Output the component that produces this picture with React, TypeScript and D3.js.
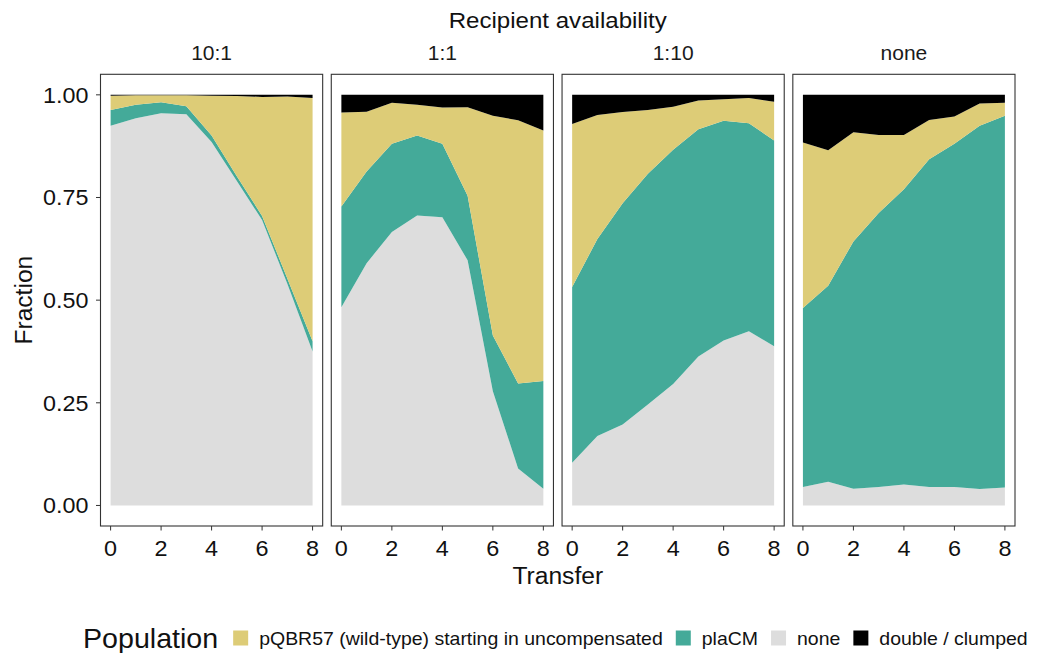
import React, { useEffect, useRef } from "react";
import * as d3 from "d3";

// Transfers sampled in every facet
const transfers = [0, 1, 2, 3, 4, 5, 6, 7, 8];

// Facet strips (recipient availability)
const facetLabels = ["10:1", "1:1", "1:10", "none"];

// Legend order and colours
const populations = [
  "pQBR57 (wild-type) starting in uncompensated",
  "plaCM",
  "none",
  "double / clumped",
];
const populationColors = ["#DDCC77", "#44AA99", "#DDDDDD", "#000000"];

// Stacking order, bottom to top
const stackOrder = [
  "none",
  "plaCM",
  "pQBR57 (wild-type) starting in uncompensated",
  "double / clumped",
];

// Fraction of each population per transfer; one row per facet (10:1, 1:1, 1:10, none)
const noneShare = [
  [0.925, 0.943, 0.955, 0.953, 0.885, 0.79, 0.695, 0.54, 0.375],
  [0.483, 0.59, 0.666, 0.706, 0.702, 0.597, 0.278, 0.09, 0.041],
  [0.104, 0.169, 0.197, 0.246, 0.296, 0.363, 0.402, 0.424, 0.388],
  [0.045, 0.058, 0.041, 0.045, 0.051, 0.045, 0.045, 0.04, 0.044],
];
const plaCMShare = [
  [0.038, 0.033, 0.027, 0.019, 0.016, 0.012, 0.01, 0.013, 0.025],
  [0.245, 0.223, 0.215, 0.195, 0.179, 0.157, 0.136, 0.207, 0.262],
  [0.428, 0.48, 0.539, 0.562, 0.57, 0.553, 0.535, 0.507, 0.501],
  [0.436, 0.477, 0.602, 0.667, 0.719, 0.798, 0.836, 0.885, 0.905],
];
const pQBR57Share = [
  [0.035, 0.023, 0.017, 0.027, 0.097, 0.195, 0.29, 0.443, 0.592],
  [0.229, 0.146, 0.1, 0.075, 0.088, 0.216, 0.535, 0.641, 0.61],
  [0.397, 0.302, 0.222, 0.155, 0.105, 0.07, 0.052, 0.061, 0.094],
  [0.403, 0.33, 0.266, 0.19, 0.132, 0.096, 0.066, 0.054, 0.032],
];
const doubleShare = [
  [0.002, 0.001, 0.001, 0.001, 0.002, 0.003, 0.005, 0.004, 0.008],
  [0.043, 0.041, 0.019, 0.024, 0.031, 0.03, 0.051, 0.062, 0.087],
  [0.071, 0.049, 0.042, 0.037, 0.029, 0.014, 0.011, 0.008, 0.017],
  [0.116, 0.135, 0.091, 0.098, 0.098, 0.061, 0.053, 0.021, 0.019],
];

const yTicks = [0, 0.25, 0.5, 0.75, 1];
const xTicks = [0, 2, 4, 6, 8];

const W = 1047;
const H = 653;
const FONT = "'Liberation Sans', Arial, Helvetica, sans-serif";

// Widen a text element slightly so its glyphs match the plot's typeface proportions
function widen(sel: d3.Selection<SVGTextElement, unknown, null, undefined>, k: number) {
  const node = sel.node() as SVGTextElement;
  const len = node.getComputedTextLength();
  sel.attr("textLength", len * k).attr("lengthAdjust", "spacingAndGlyphs");
  return len * k;
}

export default function App() {
  const ref = useRef<SVGSVGElement | null>(null);

  useEffect(() => {
    const svg = d3.select(ref.current);
    svg.selectAll("*").remove();

    const left = 100.5;
    const right = 1015;
    const top = 74.3;
    const bottom = 526;
    const gap = 8.6;
    const pw = (right - left - 3 * gap) / 4;

    const y = d3.scaleLinear().domain([-0.05, 1.05]).range([bottom, top]);
    const x = d3.scaleLinear().domain([-0.4, 8.4]).range([0, pw]);

    const stack = d3.stack<any>().keys(stackOrder);
    const area = d3
      .area<any>()
      .x((d) => x(d.data.transfer))
      .y0((d) => y(d[0]))
      .y1((d) => y(d[1]));

    const colorOf = (key: string) => populationColors[populations.indexOf(key)];

    facetLabels.forEach((label, f) => {
      const g = svg
        .append("g")
        .attr("transform", `translate(${left + f * (pw + gap)},0)`);

      const rows = transfers.map((t, i) => ({
        transfer: t,
        none: noneShare[f][i],
        plaCM: plaCMShare[f][i],
        "pQBR57 (wild-type) starting in uncompensated": pQBR57Share[f][i],
        "double / clumped": doubleShare[f][i],
      }));

      g.selectAll("path.layer")
        .data(stack(rows))
        .join("path")
        .attr("class", "layer")
        .attr("d", area as any)
        .attr("fill", (s: any) => colorOf(s.key));

      g.append("rect")
        .attr("x", 0)
        .attr("y", top)
        .attr("width", pw)
        .attr("height", bottom - top)
        .attr("fill", "none")
        .attr("stroke", "#333333")
        .attr("stroke-width", 1.1);

      // strip label
      g.append("text")
        .attr("x", pw / 2)
        .attr("y", 60)
        .attr("text-anchor", "middle")
        .attr("font-size", 21)
        .attr("fill", "#1a1a1a")
        .text(label);

      // x ticks
      xTicks.forEach((t) => {
        g.append("line")
          .attr("x1", x(t))
          .attr("x2", x(t))
          .attr("y1", bottom)
          .attr("y2", bottom + 4.5)
          .attr("stroke", "#333333")
          .attr("stroke-width", 1);
        const lbl = g
          .append("text")
          .attr("x", x(t))
          .attr("y", 556)
          .attr("text-anchor", "middle")
          .attr("font-size", 22.5)
          .attr("fill", "#111")
          .text(String(t));
        widen(lbl as any, 1.04);
      });
    });

    // y axis on the first panel
    yTicks.forEach((t) => {
      svg
        .append("line")
        .attr("x1", left - 4.5)
        .attr("x2", left)
        .attr("y1", y(t))
        .attr("y2", y(t))
        .attr("stroke", "#333333")
        .attr("stroke-width", 1);
      const lbl = svg
        .append("text")
        .attr("x", left - 12)
        .attr("y", y(t))
        .attr("dy", "0.36em")
        .attr("text-anchor", "end")
        .attr("font-size", 22)
        .attr("fill", "#111")
        .text(t.toFixed(2));
      widen(lbl as any, 1.06);
    });

    const cx = (left + right) / 2;
    const title = svg
      .append("text")
      .attr("x", cx)
      .attr("y", 28)
      .attr("text-anchor", "middle")
      .attr("font-size", 22.5)
      .attr("fill", "#111")
      .text("Recipient availability");
    widen(title as any, 1.07);

    const xTitle = svg
      .append("text")
      .attr("x", cx)
      .attr("y", 584)
      .attr("text-anchor", "middle")
      .attr("font-size", 23)
      .attr("fill", "#111")
      .text("Transfer");
    widen(xTitle as any, 1.07);

    const yTitle = svg
      .append("text")
      .attr("transform", `translate(32,${(top + bottom) / 2}) rotate(-90)`)
      .attr("text-anchor", "middle")
      .attr("font-size", 23)
      .attr("fill", "#111")
      .text("Fraction");
    widen(yTitle as any, 1.07);

    // legend
    svg
      .append("clipPath")
      .attr("id", "legend-clip")
      .append("rect")
      .attr("x", 0)
      .attr("y", 600)
      .attr("width", 1029)
      .attr("height", 53);

    const lg = svg.append("g").attr("clip-path", "url(#legend-clip)");
    const ly = 638;
    const legendTitle = lg
      .append("text")
      .attr("x", 83)
      .attr("y", ly)
      .attr("dy", "0.35em")
      .attr("font-size", 27.5)
      .attr("fill", "#111")
      .text("Population");
    let cursor = 83 + widen(legendTitle as any, 1.04) + 15;
    const key = 15;
    populations.forEach((p, i) => {
      lg.append("rect")
        .attr("x", cursor)
        .attr("y", ly - key / 2)
        .attr("width", key)
        .attr("height", key)
        .attr("fill", populationColors[i]);
      const t = lg
        .append("text")
        .attr("x", cursor + key + 11)
        .attr("y", ly)
        .attr("dy", "0.35em")
        .attr("font-size", 18.6)
        .attr("fill", "#111")
        .text(p);
      cursor += key + 11 + widen(t as any, 1.047) + 13;
    });
  }, []);

  return (
    <svg
      ref={ref}
      width={W}
      height={H}
      viewBox={`0 0 ${W} ${H}`}
      style={{ position: "absolute", left: 0, top: 0, background: "#ffffff", fontFamily: FONT }}
    />
  );
}
